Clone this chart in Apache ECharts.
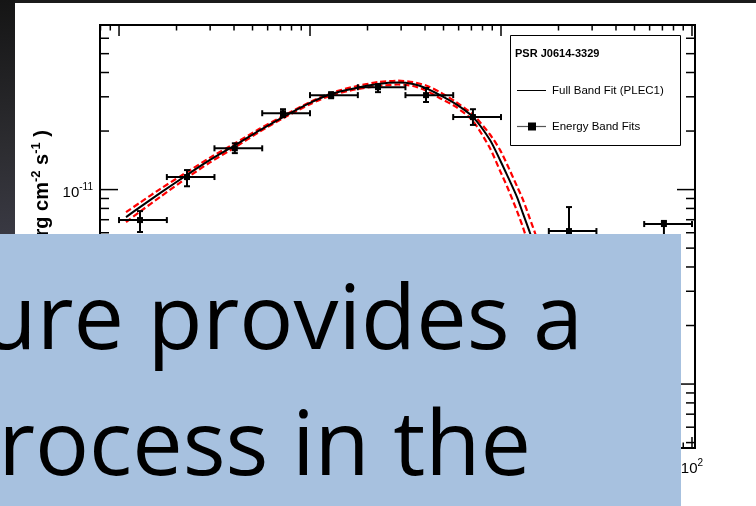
<!DOCTYPE html>
<html>
<head>
<meta charset="utf-8">
<script src="https://cdn.jsdelivr.net/npm/echarts@6/dist/echarts.min.js"></script>
<style>
  html, body { margin: 0; padding: 0; background: #fff; }
  #c { width: 756px; height: 506px; }
</style>
</head>
<body>
<div id="c"></div>
<script>
// Energy-band fits of PSR J0614-3329: bin centre, bin edges (GeV), flux with errors (erg cm^-2 s^-1)
const bandE   = [0.1288, 0.227, 0.404, 0.722, 1.29, 2.27, 4.05, 7.13, 22.7, 71.3];
const bandELo = [0.1, 0.178, 0.316, 0.562, 1.0, 1.78, 3.16, 5.62, 17.8, 56.2];
const bandEHi = [0.178, 0.316, 0.562, 1.0, 1.78, 3.16, 5.62, 10.0, 31.6, 100];
const bandF   = [6.97e-12, 1.16e-11, 1.63e-11, 2.47e-11, 3.06e-11, 3.36e-11, 3.06e-11, 2.36e-11, 6.12e-12, 6.65e-12];
const bandFLo = [6.05e-12, 1.04e-11, 1.54e-11, 2.36e-11, 2.95e-11, 3.17e-11, 2.82e-11, 2.15e-11, 4.2e-12, 4.5e-12];
const bandFHi = [7.75e-12, 1.26e-11, 1.73e-11, 2.59e-11, 3.17e-11, 3.48e-11, 3.33e-11, 2.59e-11, 8.13e-12, 6.9e-12];

// Full-band PLEC1 fit and its uncertainty envelope
const fitE = [0.1088, 0.1288, 0.1639, 0.2270, 0.2995, 0.4048, 0.5472, 0.7225, 1.000, 1.288, 1.720, 2.270, 2.889,
              3.462, 4.049, 4.793, 5.814, 7.136, 8.759, 9.880, 10.75, 12.13, 13.04, 14.19, 15.07, 16.00];
const fitF = [7.22e-12, 8.13e-12, 9.59e-12, 1.19e-11, 1.42e-11, 1.69e-11, 2.02e-11, 2.36e-11, 2.79e-11, 3.10e-11,
              3.32e-11, 3.49e-11, 3.55e-11, 3.49e-11, 3.32e-11, 3.06e-11, 2.75e-11, 2.36e-11, 1.80e-11, 1.42e-11,
              1.19e-11, 9.15e-12, 7.52e-12, 5.98e-12, 4.94e-12, 4.09e-12];
const fitUpper = [7.66e-12, 8.57e-12, 1.006e-11, 1.23e-11, 1.46e-11, 1.73e-11, 2.06e-11, 2.39e-11, 2.82e-11, 3.14e-11,
              3.39e-11, 3.57e-11, 3.63e-11, 3.57e-11, 3.43e-11, 3.17e-11, 2.82e-11, 2.43e-11, 1.92e-11, 1.60e-11,
              1.35e-11, 1.04e-11, 8.85e-12, 7.05e-12, 5.98e-12, 4.94e-12];
const fitLower = [6.81e-12, 7.71e-12, 9.15e-12, 1.15e-11, 1.38e-11, 1.65e-11, 1.99e-11, 2.33e-11, 2.75e-11, 3.05e-11,
              3.27e-11, 3.41e-11, 3.47e-11, 3.41e-11, 3.23e-11, 2.95e-11, 2.66e-11, 2.25e-11, 1.63e-11, 1.25e-11,
              1.04e-11, 7.75e-12, 6.38e-12, 4.94e-12, 4.09e-12, 3.31e-12];

// Axis ticks and labels
const xMajorTicks = [0.1, 1, 10, 100];
const xMinorTicks = [0.08, 0.09, 0.2, 0.3, 0.4, 0.5, 0.6, 0.7, 0.8, 0.9, 2, 3, 4, 5, 6, 7, 8, 9,
                     20, 30, 40, 50, 60, 70, 80, 90];
const xTickLabels = [['10', '-1'], ['1', ''], ['10', ''], ['10', '2']];
const yMajorTicks = [1e-12, 1e-11];
const yMinorTicks = [5e-13, 6e-13, 7e-13, 8e-13, 9e-13, 2e-12, 3e-12, 4e-12, 5e-12, 6e-12, 7e-12, 8e-12, 9e-12,
                     2e-11, 3e-11, 4e-11, 5e-11, 6e-11];
const yTickLabels = [['10', '-12'], ['10', '-11']];

const X_MIN = 0.0795, X_MAX = 103.7;
const Y_MIN = 4.69e-13, Y_MAX = 7.02e-11;

const FONT = '"Liberation Sans", Arial, Helvetica, sans-serif';
const labelRich = {
  t:  { fontSize: 15, fontFamily: FONT, lineHeight: 18, verticalAlign: 'bottom', fill: '#000' },
  ts: { fontSize: 10, fontFamily: FONT, lineHeight: 10, verticalAlign: 'top', fill: '#000' }
};
function supText(base, exp) {
  return exp ? '{t|' + base + '}{ts|' + exp + '}' : '{t|' + base + '}';
}

// Frame ticks on all four sides, plus decade labels
function renderTicks(params, api) {
  const kids = [];
  const seg = (x1, y1, x2, y2) => kids.push({
    type: 'line', shape: { x1, y1, x2, y2 }, style: { stroke: '#000', lineWidth: 1.5 }
  });
  const yb = api.coord([X_MIN, Y_MIN])[1];
  const yt = api.coord([X_MIN, Y_MAX])[1];
  const xl = api.coord([X_MIN, Y_MIN])[0];
  const xr = api.coord([X_MAX, Y_MIN])[0];
  const xTick = (v, len) => { const x = api.coord([v, Y_MIN])[0]; seg(x, yb, x, yb - len); seg(x, yt, x, yt + len); };
  const yTick = (v, len) => { const y = api.coord([X_MIN, v])[1]; seg(xl, y, xl + len, y); seg(xr, y, xr - len, y); };
  xMajorTicks.forEach(v => xTick(v, 11));
  xMinorTicks.forEach(v => xTick(v, 5.5));
  yMajorTicks.forEach(v => yTick(v, 18));
  yMinorTicks.forEach(v => yTick(v, 9));
  xMajorTicks.forEach((v, i) => {
    const x = api.coord([v, Y_MIN])[0];
    kids.push({ type: 'text', style: { x: x, y: yb + 10, text: supText(xTickLabels[i][0], xTickLabels[i][1]),
      rich: labelRich, align: 'center', verticalAlign: 'top' } });
  });
  yMajorTicks.forEach((v, i) => {
    const y = api.coord([X_MIN, v])[1];
    kids.push({ type: 'text', style: { x: xl - 7, y: y + 1.5, text: supText(yTickLabels[i][0], yTickLabels[i][1]),
      rich: labelRich, align: 'right', verticalAlign: 'middle' } });
  });
  return { type: 'group', children: kids };
}

// Square markers with horizontal (bin) and vertical (flux) error bars
function renderBands(params, api) {
  const e = api.value(0), f = api.value(1);
  const c = api.coord([e, f]);
  const l = api.coord([api.value(2), f]);
  const r = api.coord([api.value(3), f]);
  const b = api.coord([e, api.value(4)]);
  const t = api.coord([e, api.value(5)]);
  const st = { stroke: '#000', lineWidth: 2 };
  const cap = 3;
  return {
    type: 'group',
    children: [
      { type: 'line', shape: { x1: l[0], y1: c[1], x2: r[0], y2: c[1] }, style: st },
      { type: 'line', shape: { x1: l[0], y1: c[1] - cap, x2: l[0], y2: c[1] + cap }, style: st },
      { type: 'line', shape: { x1: r[0], y1: c[1] - cap, x2: r[0], y2: c[1] + cap }, style: st },
      { type: 'line', shape: { x1: c[0], y1: b[1], x2: c[0], y2: t[1] }, style: st },
      { type: 'line', shape: { x1: c[0] - cap, y1: t[1], x2: c[0] + cap, y2: t[1] }, style: st },
      { type: 'line', shape: { x1: c[0] - cap, y1: b[1], x2: c[0] + cap, y2: b[1] }, style: st },
      { type: 'rect', shape: { x: c[0] - 3, y: c[1] - 3, width: 6, height: 6 }, style: { fill: '#000' } }
    ]
  };
}

const chart = echarts.init(document.getElementById('c'), null, { renderer: 'canvas' });

const bandData = bandE.map((e, i) => [e, bandF[i], bandELo[i], bandEHi[i], bandFLo[i], bandFHi[i]]);
const pairs = (ys) => fitE.map((e, i) => [e, ys[i]]);

const titleRich = {
  b: { fontSize: 20, fontWeight: 'bold', fontFamily: FONT, lineHeight: 23, verticalAlign: 'bottom', fill: '#000' },
  s: { fontSize: 13, fontWeight: 'bold', fontFamily: FONT, lineHeight: 13, verticalAlign: 'top', fill: '#000' }
};

chart.setOption({
  animation: false,
  backgroundColor: '#ffffff',
  textStyle: { fontFamily: FONT },
  grid: { left: 100, top: 25, width: 595, height: 423, show: true, borderColor: '#000', borderWidth: 2,
          backgroundColor: 'transparent' },
  xAxis: { type: 'log', logBase: 10, min: X_MIN, max: X_MAX,
           axisLine: { show: false }, axisTick: { show: false }, axisLabel: { show: false }, splitLine: { show: false } },
  yAxis: { type: 'log', logBase: 10, min: Y_MIN, max: Y_MAX,
           axisLine: { show: false }, axisTick: { show: false }, axisLabel: { show: false }, splitLine: { show: false } },
  series: [
    { type: 'custom', name: 'ticks', data: [[1, 1e-11]], renderItem: renderTicks, silent: true, clip: false, z: 5 },
    { type: 'line', name: 'fit upper', data: pairs(fitUpper), symbol: 'none', smooth: 0.25,
      lineStyle: { color: '#ff0000', width: 2.2, type: [6, 3] }, z: 3, silent: true },
    { type: 'line', name: 'fit lower', data: pairs(fitLower), symbol: 'none', smooth: 0.25,
      lineStyle: { color: '#ff0000', width: 2.2, type: [6, 3] }, z: 3, silent: true },
    { type: 'line', name: 'Full Band Fit (PLEC1)', data: pairs(fitF), symbol: 'none', smooth: 0.25,
      lineStyle: { color: '#000', width: 2 }, z: 4, silent: true },
    { type: 'custom', name: 'Energy Band Fits', data: bandData, renderItem: renderBands,
      encode: { x: 0, y: 1 }, z: 6, silent: true }
  ],
  graphic: [
    // dark backdrop around the slide
    { type: 'rect', z: 0, shape: { x: 0, y: 0, width: 756, height: 3 }, style: { fill: '#1b1b1b' } },
    { type: 'rect', z: 0, shape: { x: 0, y: 0, width: 15, height: 240 },
      style: { fill: new echarts.graphic.LinearGradient(0, 0, 1, 1, [
        { offset: 0, color: '#151515' }, { offset: 0.6, color: '#2c2c30' }, { offset: 1, color: '#3a3a44' }]) } },
    // y axis title
    { type: 'text', z: 8, x: 41, y: 130, rotation: Math.PI / 2,
      style: { text: '{b|E}{s|2}{b| dN/dE (erg cm}{s|-2}{b| s}{s|-1}{b| )}', rich: titleRich,
               align: 'right', verticalAlign: 'middle' } },
    // legend
    { type: 'rect', z: 8, shape: { x: 510.5, y: 35.5, width: 170, height: 110 },
      style: { fill: '#fff', stroke: '#000', lineWidth: 1 } },
    { type: 'text', z: 9, x: 515, y: 54,
      style: { text: 'PSR J0614-3329', font: 'bold 11px ' + FONT, fill: '#000', verticalAlign: 'middle' } },
    { type: 'line', z: 9, shape: { x1: 517, y1: 90.5, x2: 546, y2: 90.5 }, style: { stroke: '#000', lineWidth: 1 } },
    { type: 'text', z: 9, x: 552, y: 91,
      style: { text: 'Full Band Fit (PLEC1)', font: '11.5px ' + FONT, fill: '#000', verticalAlign: 'middle' } },
    { type: 'line', z: 9, shape: { x1: 517, y1: 126.5, x2: 546, y2: 126.5 }, style: { stroke: '#555', lineWidth: 1.2 } },
    { type: 'rect', z: 9, shape: { x: 528, y: 122.5, width: 8, height: 8 }, style: { fill: '#000' } },
    { type: 'text', z: 9, x: 552, y: 127,
      style: { text: 'Energy Band Fits', font: '11.5px ' + FONT, fill: '#000', verticalAlign: 'middle' } },
    // caption box laid over the lower part of the slide
    { type: 'rect', z: 20, shape: { x: 0, y: 234, width: 681, height: 272 }, style: { fill: '#a7c1df' } },
    { type: 'text', z: 21, x: 583, y: 323,
      style: { text: 'ure provides a', font: '90px "Open Sans", sans-serif', fill: '#000',
               align: 'right', verticalAlign: 'middle' } },
    { type: 'text', z: 21, x: 531, y: 449,
      style: { text: 'rocess in the', font: '90px "Open Sans", sans-serif', fill: '#000',
               align: 'right', verticalAlign: 'middle' } }
  ]
});
</script>
</body>
</html>
